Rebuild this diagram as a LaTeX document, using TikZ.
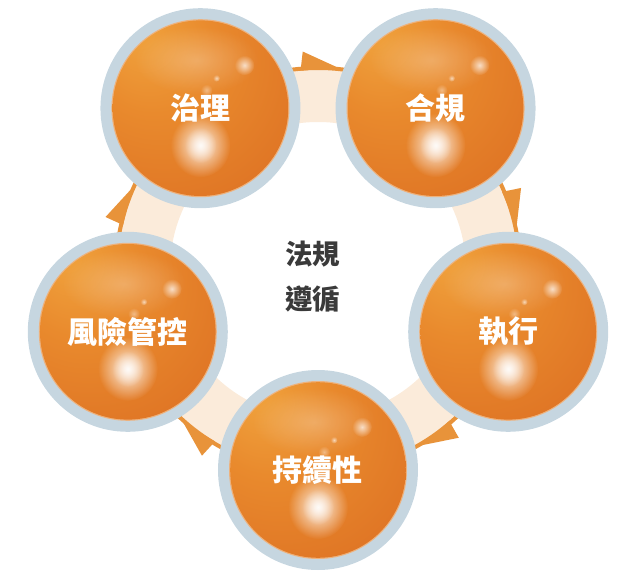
\documentclass[tikz,border=0pt]{standalone}
\usepackage{fontspec}
\newfontfamily\cjk{Noto Sans CJK TC}
\usetikzlibrary{fadings}
\definecolor{ringgrey}{HTML}{C6D6E0}
\definecolor{bandpeach}{HTML}{FBEBDA}
\definecolor{arrowor}{HTML}{E8933A}
\definecolor{orbA}{HTML}{F0A33E}
\definecolor{orbB}{HTML}{E98A2D}
\definecolor{orbC}{HTML}{DD7023}
\definecolor{orbD}{HTML}{CA5C1A}
\definecolor{rimc}{HTML}{EDB27E}
\definecolor{txt}{HTML}{3A3A3A}
\pgfdeclareradialshading{orbshade}{\pgfpoint{-18bp}{22bp}}{color(0bp)=(orbA); color(18bp)=(orbB); color(45bp)=(orbC); color(72bp)=(orbD)}
\tikzfading[name=softglow, inner color=transparent!10, outer color=transparent!100]
\tikzset{
  orb/.pic={
    \fill[ringgrey] (0,0) circle (100);
    \fill[rimc] (0,0) circle (89);
    \shade[shading=orbshade] (0,0) circle (87.8);
    \fill[white, opacity=0.28, path fading=softglow] (-4,48) ellipse (62 and 34);
    \fill[white, path fading=softglow] (0,-37) ellipse (30 and 32);
    \fill[white, opacity=0.75, path fading=softglow] (0,-37) ellipse (16 and 18);
    \fill[white, opacity=0.8, path fading=softglow] (44,43) circle (10);
    \fill[white, opacity=0.7, path fading=softglow] (16,30) circle (3.5);
    \fill[white, opacity=0.45, path fading=softglow] (6,18) circle (6);
  },
  orblabel/.style={circle, minimum size=200pt, inner sep=0pt,
    text=white, font=\cjk\bfseries\fontsize{30}{36}\selectfont},
  core/.style={align=center, text=txt, font=\cjk\bfseries\fontsize{27.5}{45}\selectfont}
}
\begin{document}
\begin{tikzpicture}[x=1pt, y=1pt]
\useasboundingbox (-318,-303) rectangle (303,270);
% ring band
\fill[bandpeach, even odd rule] (0,0) circle (201) (0,0) circle (148);
\draw[arrowor, line width=4pt] (0,0) circle (202);
% arrowheads (clockwise)
\foreach \m in {90,18,-54,-126,162} {
  \fill[arrowor] (\m+5:200) -- (\m+4:219) -- (\m-5.5:203.5) -- cycle;
}
% spheres
\foreach \a in {126,54,-18,-90,198} { \pic at (\a:200) {orb}; }
\node[orblabel] (zhili) at (126:200) {治理};
\node[orblabel] (hegui) at (54:200) {合規};
\node[orblabel] (zhixing) at (-18:200) {執行};
\node[orblabel] (chixu) at (-90:200) {持續性};
\node[orblabel] (fengxian) at (198:200) {風險管控};
% centre text
\node[core] (center) at (-5,-7) {法規\\遵循};
\end{tikzpicture}
\end{document}
